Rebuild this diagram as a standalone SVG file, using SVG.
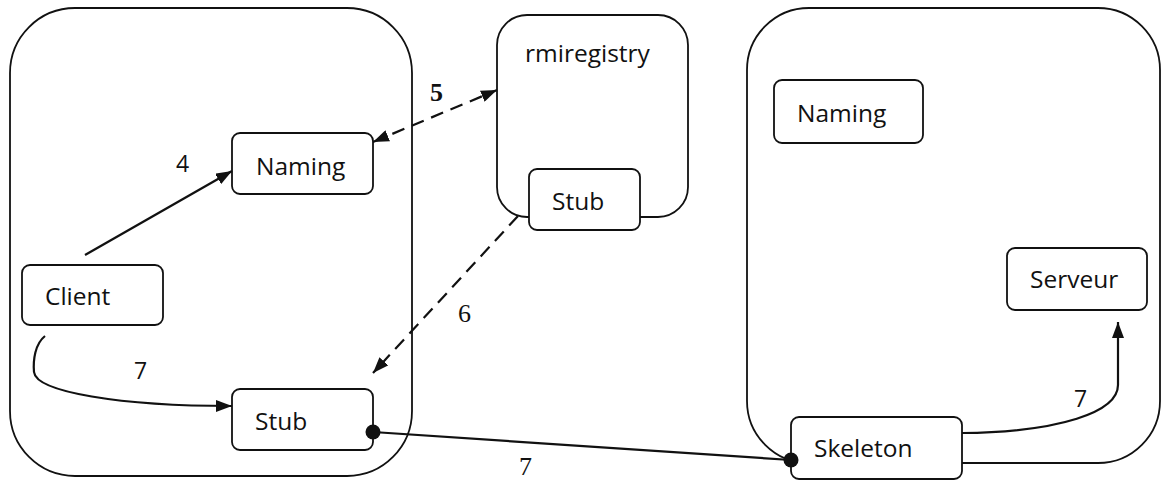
<svg xmlns="http://www.w3.org/2000/svg" width="1162" height="481" viewBox="0 0 1162 481">
<style>
.container{fill:none;stroke:#111;stroke-width:1.8}
.box{fill:#fff;stroke:#111;stroke-width:1.8}
.lbl{font-family:"Open Sans","Noto Sans",sans-serif;font-size:24.5px;fill:#111}
.num{font-family:"Open Sans","Noto Sans",sans-serif;font-size:23px;fill:#111}
.ser{font-family:"Liberation Serif",serif;font-size:26px;fill:#111}
.conn{fill:none;stroke:#111;stroke-width:2.2}
.dash{stroke-dasharray:13 8}
</style>
<defs>
<marker id="arr" viewBox="0 0 16 12" refX="16" refY="6" markerUnits="userSpaceOnUse" markerWidth="16" markerHeight="12" orient="auto-start-reverse">
<path d="M0,0 L16,6 L0,12 z" fill="#111"/>
</marker>
</defs>
<g id="client-host">
<rect class="container" x="10" y="8" width="402" height="468" rx="65"/>
</g>
<g id="rmiregistry">
<rect class="container" x="497" y="15" width="191" height="202" rx="30"/>
<text class="lbl" x="525" y="62">rmiregistry</text>
</g>
<g id="server-host">
<rect class="container" x="747" y="8" width="413" height="455" rx="62"/>
</g>
<g id="naming-left">
<rect class="box" x="232" y="133" width="141" height="61" rx="8"/>
<text class="lbl" x="256" y="175">Naming</text>
</g>
<g id="client">
<rect class="box" x="22" y="265" width="141" height="60" rx="8"/>
<text class="lbl" x="45" y="305">Client</text>
</g>
<g id="stub-left">
<rect class="box" x="232" y="389" width="141" height="61" rx="8"/>
<text class="lbl" x="255" y="430">Stub</text>
</g>
<g id="stub-registry">
<rect class="box" x="529" y="169" width="111" height="61" rx="8"/>
<text class="lbl" x="552" y="210">Stub</text>
</g>
<g id="naming-right">
<rect class="box" x="774" y="80" width="149" height="63" rx="8"/>
<text class="lbl" x="797" y="122">Naming</text>
</g>
<g id="serveur">
<rect class="box" x="1007" y="248" width="140" height="62" rx="8"/>
<text class="lbl" x="1030" y="288">Serveur</text>
</g>
<g id="skeleton">
<rect class="box" x="791" y="417" width="171" height="62" rx="8"/>
<text class="lbl" x="814" y="457">Skeleton</text>
</g>
<g id="connectors">
<path class="conn" d="M85,255 L232,171" marker-end="url(#arr)"/>
<text class="num" x="176" y="172">4</text>
<path class="conn dash" d="M373,142 L497,90" marker-start="url(#arr)" marker-end="url(#arr)"/>
<text class="ser" x="430" y="101" font-weight="bold" font-size="23">5</text>
<path class="conn dash" d="M518,216 L373,373" marker-end="url(#arr)"/>
<text class="ser" x="458" y="322">6</text>
<path class="conn" d="M45,336 C35,344 33,360 34,372 C36,392 120,406 232,406" marker-end="url(#arr)"/>
<text class="num" x="134" y="379">7</text>
<path class="conn" d="M373,432 L791,460"/>
<circle cx="373" cy="432" r="7.5" fill="#111"/>
<circle cx="791" cy="460" r="7.5" fill="#111"/>
<text class="ser" x="519" y="475" font-size="25">7</text>
<path class="conn" d="M962,433 C1060,432 1118,412 1118,385 L1118,322" marker-end="url(#arr)"/>
<text class="num" x="1074" y="407">7</text>
</g>
</svg>
